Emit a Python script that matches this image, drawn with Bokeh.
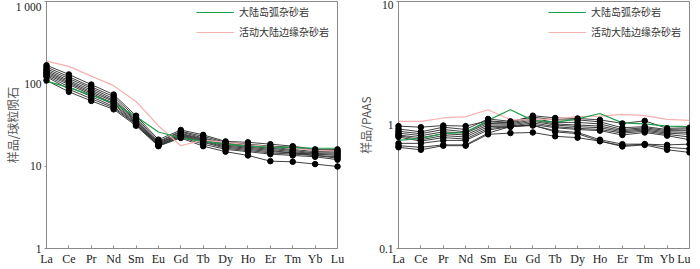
from bokeh.plotting import figure
from bokeh.layouts import row
from bokeh.models import Range1d, FixedTicker, Legend, LegendItem
from bokeh.embed import file_html
from bokeh.resources import INLINE

elements = ["La", "Ce", "Pr", "Nd", "Sm", "Eu", "Gd", "Tb", "Dy", "Ho", "Er", "Tm", "Yb", "Lu"]

# chondrite-normalised reference curves
chon_arc = [108, 90, 73, 58, 40, 26, 22, 20, 18.5, 17.5, 17, 16.8, 16.5, 16.5]
chon_acm = [189, 163, 124, 95, 61, 31, 17.7, 20.7, 19.5, 18.2, 17.2, 16.5, 15.6, 15.2]
# chondrite-normalised samples
chon_samples = [
    [168, 130, 98, 74, 41, 21, 27.5, 24, 20, 19.5, 18.5, 17.5, 16, 16],
    [160, 122, 92, 70, 39, 20, 26.5, 23, 19.5, 18.5, 17.5, 17, 15.5, 15.5],
    [152, 116, 88, 66, 37, 19.5, 26, 22, 19, 18, 17, 16, 15, 15],
    [146, 110, 84, 63, 36, 19, 25, 21.5, 18.5, 17.5, 16.5, 15.5, 14.5, 14.5],
    [140, 106, 80, 61, 35, 19, 24.5, 21, 18, 17, 16, 15, 14.2, 14],
    [135, 102, 77, 58, 34, 18.5, 24, 20.5, 17.5, 16.5, 15.5, 14.5, 14, 13.5],
    [130, 98, 74, 56, 33, 18, 23.5, 20, 17, 16, 15, 14.5, 13.5, 13],
    [126, 92, 70, 53, 32.5, 18, 23, 19.5, 16.5, 15.5, 14.5, 14, 13.5, 12.5],
    [122, 86, 66, 51, 32, 17.7, 22.5, 18.5, 16, 15, 14, 13.5, 13, 12],
    [110, 80, 62, 49, 31, 17.5, 22, 17.5, 15, 13.5, 11.5, 11.3, 10.6, 9.9],
]

# PAAS-normalised reference curves
paas_arc = [0.75, 0.78, 0.85, 0.87, 1.09, 1.33, 1.09, 1.05, 1.12, 1.24, 1.04, 1.02, 0.98, 0.97]
paas_acm = [1.07, 1.07, 1.14, 1.17, 1.33, 1.1, 1.1, 1.12, 1.17, 1.18, 1.22, 1.19, 1.11, 1.09]
# PAAS-normalised samples
paas_samples = [
    [0.98, 0.96, 0.99, 0.98, 1.08, 1.05, 1.19, 1.14, 1.13, 1.1, 1.03, 1.08, 0.94, 0.95],
    [0.93, 0.88, 0.96, 0.92, 1.12, 1.07, 1.16, 1.1, 1.1, 1.06, 0.95, 0.97, 0.92, 0.93],
    [0.89, 0.85, 0.92, 0.88, 1.06, 1.04, 1.13, 1.05, 1.05, 1.02, 0.92, 0.95, 0.9, 0.9],
    [0.86, 0.82, 0.88, 0.86, 1.03, 1.02, 1.1, 1.02, 1.0, 0.98, 0.9, 0.93, 0.88, 0.87],
    [0.83, 0.79, 0.85, 0.83, 1.0, 1.0, 1.07, 1.0, 0.97, 0.95, 0.88, 0.91, 0.86, 0.84],
    [0.82, 0.76, 0.82, 0.8, 0.97, 0.98, 1.04, 0.97, 0.94, 0.92, 0.86, 0.89, 0.84, 0.8],
    [0.8, 0.74, 0.79, 0.77, 0.94, 0.97, 1.01, 0.95, 0.92, 0.9, 0.83, 0.87, 0.82, 0.76],
    [0.71, 0.71, 0.75, 0.75, 0.91, 0.97, 0.99, 0.9, 0.87, 0.76, 0.7, 0.7, 0.69, 0.7],
    [0.68, 0.66, 0.69, 0.69, 0.86, 0.97, 1.0, 0.88, 0.85, 0.74, 0.68, 0.7, 0.66, 0.64],
    [0.66, 0.63, 0.68, 0.68, 0.84, 0.86, 0.87, 0.81, 0.79, 0.74, 0.67, 0.69, 0.63, 0.6],
]

left_ticks = [1, 10, 100, 1000]
left_tick_labels = ["1", "10", "100", "1 000"]
right_ticks = [0.1, 1, 10]
right_tick_labels = ["0.1", "1", "10"]

legend_labels = ["大陆岛弧杂砂岩", "活动大陆边缘杂砂岩"]
left_title = "样品/球粒陨石"
right_title = "样品/PAAS"

ARC_COLOR = "#1f9e4a"
ACM_COLOR = "#f7b0b0"
AXIS_COLOR = "#8a8a8a"
TEXT_COLOR = "#222222"
SERIF = "Liberation Serif"
CJK = "Noto Sans CJK SC"

FRAME_W = 291
FRAME_H = 247


def make_panel(border_left, border_right, yr, ticks, tick_labels,
               samples, arc, acm, title_text, title_standoff):
    xs = list(range(len(elements)))
    p = figure(frame_width=FRAME_W, frame_height=FRAME_H, y_axis_type="log",
               x_range=Range1d(0, len(elements) - 1), y_range=Range1d(*yr),
               output_backend="svg", toolbar_location=None,
               min_border_left=border_left, min_border_right=border_right,
               min_border_top=1, min_border_bottom=0)
    p.grid.visible = False
    p.outline_line_color = AXIS_COLOR
    p.outline_line_width = 1
    p.background_fill_color = "white"
    p.border_fill_color = "white"

    p.xaxis.ticker = FixedTicker(ticks=xs)
    p.xaxis.major_label_overrides = {i: e for i, e in enumerate(elements)}
    p.xaxis.major_tick_in = 3
    p.xaxis.major_tick_out = 0
    p.xaxis.minor_tick_line_color = None
    p.xaxis.major_label_standoff = 3
    p.xaxis.axis_label_standoff = 0
    p.yaxis.ticker = FixedTicker(ticks=ticks, minor_ticks=[])
    p.yaxis.major_label_overrides = {t: l for t, l in zip(ticks, tick_labels)}
    p.yaxis.major_tick_in = 0
    p.yaxis.major_tick_out = 2
    p.yaxis.minor_tick_line_color = None
    p.yaxis.major_label_standoff = 3
    for ax in (p.xaxis, p.yaxis):
        ax.axis_line_color = AXIS_COLOR
        ax.major_tick_line_color = AXIS_COLOR
        ax.major_label_text_font = SERIF
        ax.major_label_text_color = TEXT_COLOR
    p.xaxis.major_label_text_font_size = "12px"
    p.yaxis.major_label_text_font_size = "11.5px"

    p.yaxis.axis_label = title_text
    p.yaxis.axis_label_text_font = CJK
    p.yaxis.axis_label_text_font_size = "12px"
    p.yaxis.axis_label_text_font_style = "normal"
    p.yaxis.axis_label_text_color = "#555555"
    p.yaxis.axis_label_standoff = title_standoff

    for s in samples:
        p.line(xs, s, line_color="#2b2b2b", line_width=0.9)
    for s in samples:
        p.scatter(xs, s, size=5.5, fill_color="black", line_color="black", level="overlay")
    r_acm = p.line(xs, acm, line_color=ACM_COLOR, line_width=1.2)
    r_arc = p.line(xs, arc, line_color=ARC_COLOR, line_width=1.2)

    common = dict(padding=0, margin=0, glyph_width=38, glyph_height=14,
                  label_height=14, label_standoff=5, border_line_color=None,
                  background_fill_alpha=0,
                  label_text_font=CJK, label_text_font_size="10px",
                  label_text_color="#333333")
    lg2 = Legend(items=[LegendItem(label=legend_labels[1], renderers=[r_acm])],
                 location=(150, FRAME_H - 24 - 14), **common)
    lg1 = Legend(items=[LegendItem(label=legend_labels[0], renderers=[r_arc])],
                 location=(150, FRAME_H - 4 - 14), **common)
    p.add_layout(lg2)
    p.add_layout(lg1)
    return p


p1 = make_panel(41, 17, (1, 1000), left_ticks, left_tick_labels,
                chon_samples, chon_arc, chon_acm, left_title, -8)
p2 = make_panel(40, 1, (0.1, 10), right_ticks, right_tick_labels,
                paas_samples, paas_arc, paas_acm, right_title, 2)

layout = row(p1, p2)
open("out.html", "w").write(file_html(layout, INLINE))
